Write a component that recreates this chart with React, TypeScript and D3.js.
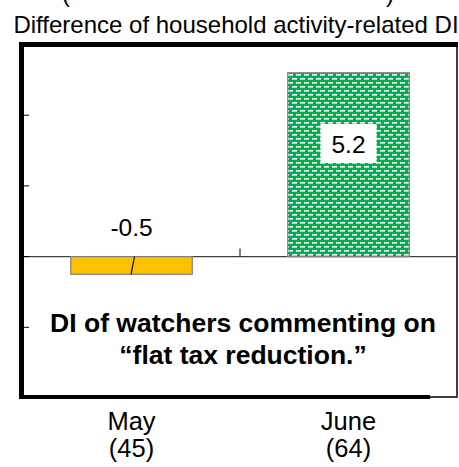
import React from "react";
import * as d3 from "d3";

const categories = ["May", "June"];
const counts = ["(45)", "(64)"];
const values = [-0.5, 5.2];
const colors = ["#FFC000", "#00B050"];
const yTicks = [-2, 0, 2, 4];
const title = "Difference of household activity-related DI";
const noteLines = ["DI of watchers commenting on", "\u201Cflat tax reduction.\u201D"];

const W = 459;
const H = 467;
const FONT = "'Liberation Sans', Arial, sans-serif";

export default function App() {
  const left = 23;
  const right = 457;
  const top = 44.5;
  const bottom = 397;
  const x = d3.scaleBand<string>().domain(categories).range([left, right]).paddingInner(0.44).paddingOuter(0.22);
  const y = d3.scaleLinear().domain([-4, 6]).range([398, top]);
  const y0 = y(0);
  const boundary = left + x.step();

  return (
    <div style={{ position: "absolute", left: 0, top: 0 }}>
      <svg width={W} height={H} style={{ display: "block", background: "#fff" }}>
        <defs>
          <pattern id="dash" width={8} height={8} patternUnits="userSpaceOnUse" x={0} y={1}>
            <rect width={8} height={8} fill="#00B050" />
            <rect x={0} y={1} width={5} height={1.6} fill="#fff" />
            <rect x={4} y={5} width={5} height={1.6} fill="#fff" />
            <rect x={-4} y={5} width={5} height={1.6} fill="#fff" />
          </pattern>
        </defs>
        {/* clipped previous title line */}
        <text x={62} y={2} fontFamily={FONT} fontSize={24} fill="#000">(</text>
        <text x={386} y={2} fontFamily={FONT} fontSize={24} fill="#000">)</text>
        <text x={236} y={33} textAnchor="middle" fontFamily={FONT} fontSize={24} fill="#000">{title}</text>

        {/* frame */}
        <rect x={21.5} y={top} width={457 - 21.5} height={bottom - top} fill="#fff" stroke="#404040" strokeWidth={2} />

        {/* zero line */}
        <line x1={left} x2={right} y1={y0} y2={y0} stroke="#404040" strokeWidth={1.2} />
        {/* category separator tick */}
        <line x1={boundary} x2={boundary} y1={y0} y2={y0 - 8} stroke="#000" strokeWidth={1} />
        {/* y ticks */}
        {yTicks.map((t) => (
          <line key={t} x1={left} x2={left + 6} y1={y(t)} y2={y(t)} stroke="#000" strokeWidth={1} />
        ))}

        {/* bars */}
        {categories.map((c, i) => {
          const v = values[i];
          const bx = x(c)!;
          const by = y(Math.max(0, v));
          const bh = Math.abs(y(v) - y0);
          return (
            <rect key={c} x={bx} y={by} width={x.bandwidth()} height={bh}
              fill={i === 1 ? "url(#dash)" : colors[i]} stroke="#808080" strokeWidth={1.2} />
          );
        })}
        {/* leader line inside May bar */}
        <line x1={x("May")! + x.bandwidth() / 2 + 3} y1={y0} x2={x("May")! + x.bandwidth() / 2 - 0.5} y2={y(values[0])}
          stroke="#000" strokeWidth={1.2} />

        {/* value labels */}
        <text x={x("May")! + x.bandwidth() / 2} y={y(values[0]) - 38} textAnchor="middle" fontFamily={FONT} fontSize={24.5} fill="#000">
          {values[0].toFixed(1)}
        </text>
        <rect x={x("June")! + x.bandwidth() / 2 - 28} y={124} width={56} height={39} fill="#fff" />
        <text x={x("June")! + x.bandwidth() / 2} y={152.5} textAnchor="middle" fontFamily={FONT} fontSize={24.5} fill="#000">
          {values[1].toFixed(1)}
        </text>

        {/* note */}
        {noteLines.map((l, i) => (
          <text key={i} x={243} y={332 + i * 31.5} textAnchor="middle" fontFamily={FONT} fontSize={26.5} fontWeight="bold" fill="#000">
            {l}
          </text>
        ))}

        {/* thick frame parts */}
        <line x1={21.5} x2={21.5} y1={42} y2={399} stroke="#000" strokeWidth={5} />
        <line x1={19} x2={458} y1={44.5} y2={44.5} stroke="#000" strokeWidth={5} />
        <line x1={19} x2={430} y1={397} y2={397} stroke="#000" strokeWidth={4} />

        {/* category labels */}
        {categories.map((c, i) => (
          <g key={c}>
            <text x={x(c)! + x.bandwidth() / 2} y={430} textAnchor="middle" fontFamily={FONT} fontSize={25.5} fill="#000">{c}</text>
            <text x={x(c)! + x.bandwidth() / 2} y={457} textAnchor="middle" fontFamily={FONT} fontSize={25.5} fill="#000">{counts[i]}</text>
          </g>
        ))}
      </svg>
    </div>
  );
}
